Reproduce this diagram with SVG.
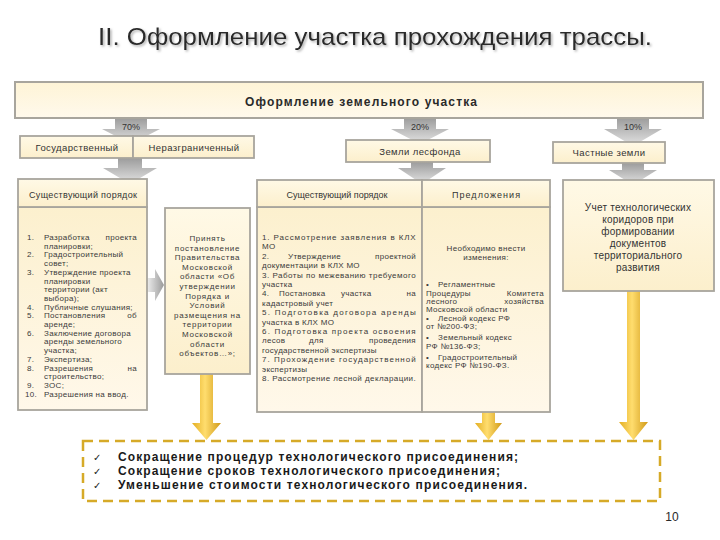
<svg xmlns="http://www.w3.org/2000/svg" width="720" height="540" viewBox="0 0 720 540">
<defs>
  <linearGradient id="gCream" x1="0" y1="0" x2="0" y2="1">
    <stop offset="0" stop-color="#FFF9E6"/>
    <stop offset="1" stop-color="#FCEFCC"/>
  </linearGradient>
  <linearGradient id="gBody" x1="0" y1="0" x2="0" y2="1">
    <stop offset="0" stop-color="#FCF0CE"/>
    <stop offset="1" stop-color="#FFF8EA"/>
  </linearGradient>
  <linearGradient id="gBanner" x1="0" y1="0" x2="0" y2="1">
    <stop offset="0" stop-color="#FEF4D6"/>
    <stop offset="1" stop-color="#FFF9EC"/>
  </linearGradient>
  <linearGradient id="gGrayV" x1="0" y1="0" x2="0" y2="1">
    <stop offset="0" stop-color="#9C9C9C"/>
    <stop offset="1" stop-color="#E4E4E4"/>
  </linearGradient>
  <linearGradient id="gGrayH" x1="0" y1="0" x2="1" y2="0">
    <stop offset="0" stop-color="#EDEDED"/>
    <stop offset="1" stop-color="#9A9A9A"/>
  </linearGradient>
  <linearGradient id="gYellow" x1="0" y1="0" x2="1" y2="0">
    <stop offset="0" stop-color="#E3AE22"/>
    <stop offset="0.45" stop-color="#FFDD6E"/>
    <stop offset="1" stop-color="#D19A18"/>
  </linearGradient>
  <filter id="shadow" x="-5%" y="-30%" width="110%" height="160%">
    <feDropShadow dx="1.5" dy="1.5" stdDeviation="0.8" flood-color="#9a9a9a" flood-opacity="0.8"/>
  </filter>
</defs>
<style>
  text { font-family: "Liberation Sans", Arial, sans-serif; fill: #2a2a2a; }
  .box { stroke: #A8A59D; stroke-width: 1.8; fill: url(#gCream); }
  .body { stroke: #A8A59D; stroke-width: 1.8; fill: url(#gBody); }
  .lbl { font-size: 9.5px; text-anchor: middle; letter-spacing: 0.4px; fill: #333; }
  .hdr { font-size: 9px; text-anchor: middle; fill: #333; }
  .pct { font-size: 9px; text-anchor: middle; fill: #333; }
  .sm { font-size: 8px; letter-spacing: 0.3px; }
  .sm text { fill: #3a3a3a; }
  .smc { font-size: 8px; letter-spacing: 0.7px; text-anchor: middle; }
  .smc text { fill: #3a3a3a; }
  .end { text-anchor: end; }
  .mid { text-anchor: middle; }
  .uch { font-size: 10px; text-anchor: middle; letter-spacing: 0.25px; fill: #333; }
  .res { font-size: 12px; font-weight: bold; fill: #1a1a1a; }
  .chk { font-family: "DejaVu Sans", sans-serif; font-size: 10px; fill: #1a1a1a; }
  .gray { fill: url(#gGrayV); }
  .grayh { fill: url(#gGrayH); }
  .yel { fill: url(#gYellow); }
</style>
<rect width="720" height="540" fill="#FFFFFF"/>

<g id="title">
  <text x="98" y="45" font-size="24" textLength="554" lengthAdjust="spacingAndGlyphs" filter="url(#shadow)" fill="#111">II. Оформление участка прохождения трассы.</text>
</g>

<g id="connectors">
  <path class="gray" d="M115,118 H147 V129 H160 L131,144 L102,129 H115 Z"/>
  <path class="gray" d="M404,118 H436 V129 H449 L420,144 L391,129 H404 Z"/>
  <path class="gray" d="M617,118 H649 V129 H662 L633,146 L604,129 H617 Z"/>
  <path class="gray" d="M118,158 H142 V168 H157 L130,184 L103,168 H118 Z"/>
  <path class="gray" d="M411,162 H433 V168 H446 L422,184 L398,168 H411 Z"/>
  <path class="gray" d="M622,163 H644 V170 H657 L633,185 L609,170 H622 Z"/>
  <path class="grayh" d="M147,278 H155 V269 L164,285 L155,301 V292 H147 Z"/>
  <path class="yel" d="M200,374 H213 V423 H221 L206.5,440 L192,423 H200 Z"/>
  <path class="yel" d="M482,412 H495 V423 H502 L488.5,440 L475,423 H482 Z"/>
  <path class="yel" d="M627,291 H640 V422 H648 L633.5,440 L619,422 H627 Z"/>
  <text class="pct" x="131" y="130">70%</text>
  <text class="pct" x="420" y="130">20%</text>
  <text class="pct" x="633" y="130">10%</text>
</g>

<g id="banner">
  <rect x="15" y="82" width="688" height="36" fill="url(#gBanner)" stroke="#A8A59D" stroke-width="2"/>
  <text x="361" y="106" font-size="12" font-weight="bold" text-anchor="middle" textLength="232" lengthAdjust="spacing" fill="#1a1a1a">Оформление земельного участка</text>
</g>

<g id="gos">
  <rect class="box" x="20" y="136" width="113" height="22"/>
  <text class="lbl" x="77" y="151">Государственный</text>
</g>
<g id="neraz">
  <rect class="box" x="133" y="136" width="121" height="22"/>
  <text class="lbl" x="194" y="151">Неразграниченный</text>
</g>
<g id="lesfond">
  <rect class="box" x="346" y="140" width="144" height="22"/>
  <text class="lbl" x="420" y="155">Земли лесфонда</text>
</g>
<g id="chast">
  <rect class="box" x="553" y="142" width="112" height="21"/>
  <text class="lbl" x="609" y="156">Частные земли</text>
</g>

<g id="left-order">
  <rect class="body" x="18" y="207" width="129" height="203"/>
  <rect class="box" x="18" y="179" width="129" height="28"/>
  <text class="hdr" x="83" y="198" textLength="108" lengthAdjust="spacing">Существующий порядок</text>
  <g class="sm">
    <text x="27" y="240">1.</text><text x="44" y="240">Разработка</text><text class="end" x="137" y="240">проекта</text>
    <text x="44" y="248.7">планировки;</text>
    <text x="27" y="257.4">2.</text><text x="44" y="257.4">Градостроительный</text>
    <text x="44" y="266.1">совет;</text>
    <text x="27" y="274.8">3.</text><text x="44" y="274.8">Утверждение проекта</text>
    <text x="44" y="283.5">планировки</text>
    <text x="44" y="292.2">территории (акт</text>
    <text x="44" y="300.9">выбора);</text>
    <text x="27" y="309.6">4.</text><text x="44" y="309.6">Публичные слушания;</text>
    <text x="27" y="318.3">5.</text><text x="44" y="318.3">Постановления</text><text class="end" x="137" y="318.3">об</text>
    <text x="44" y="327">аренде;</text>
    <text x="27" y="335.7">6.</text><text x="44" y="335.7">Заключение договора</text>
    <text x="44" y="344.4">аренды земельного</text>
    <text x="44" y="353.1">участка;</text>
    <text x="27" y="361.8">7.</text><text x="44" y="361.8">Экспертиза;</text>
    <text x="27" y="370.5">8.</text><text x="44" y="370.5">Разрешения</text><text class="end" x="137" y="370.5">на</text>
    <text x="44" y="379.2">строительство;</text>
    <text x="27" y="387.9">9.</text><text x="44" y="387.9">ЗОС;</text>
    <text x="25" y="396.6">10.</text><text x="44" y="396.6">Разрешения на ввод.</text>
  </g>
</g>

<g id="prinyat">
  <rect class="box" x="165" y="208" width="85" height="166"/>
  <g class="smc">
    <text x="207.5" y="241">Принять</text>
    <text x="207.5" y="250.6">постановление</text>
    <text x="207.5" y="260.2">Правительства</text>
    <text x="207.5" y="269.8">Московской</text>
    <text x="207.5" y="279.4">области «Об</text>
    <text x="207.5" y="289">утверждении</text>
    <text x="207.5" y="298.6">Порядка и</text>
    <text x="207.5" y="308.2">Условий</text>
    <text x="207.5" y="317.8">размещения на</text>
    <text x="207.5" y="327.4">территории</text>
    <text x="207.5" y="337">Московской</text>
    <text x="207.5" y="346.6">области</text>
    <text x="207.5" y="356.2">объектов…»;</text>
  </g>
</g>

<g id="mid-order">
  <rect class="body" x="257" y="207" width="165" height="205"/>
  <rect class="box" x="257" y="180" width="165" height="27"/>
  <text class="hdr" x="337" y="198" textLength="101" lengthAdjust="spacing">Существующий порядок</text>
  <g class="sm">
    <text x="262" y="240" textLength="154" lengthAdjust="spacing">1. Рассмотрение заявления в КЛХ</text>
    <text x="262" y="249.4">МО</text>
    <text x="262" y="258.8">2.</text><text x="288" y="258.8">Утверждение</text><text class="end" x="416" y="258.8">проектной</text>
    <text x="262" y="268.2">документации в КЛХ МО</text>
    <text x="262" y="277.6" textLength="154" lengthAdjust="spacing">3. Работы по межеванию требуемого</text>
    <text x="262" y="287">участка</text>
    <text x="262" y="296.4">4.</text><text x="279" y="296.4">Постановка</text><text x="341" y="296.4">участка</text><text class="end" x="416" y="296.4">на</text>
    <text x="262" y="305.8">кадастровый учет</text>
    <text x="262" y="315.2" textLength="154" lengthAdjust="spacing">5. Подготовка договора аренды</text>
    <text x="262" y="324.6">участка в КЛХ МО</text>
    <text x="262" y="334" textLength="154" lengthAdjust="spacing">6. Подготовка проекта освоения</text>
    <text x="262" y="343.4">лесов</text><text x="309" y="343.4">для</text><text class="end" x="416" y="343.4">проведения</text>
    <text x="262" y="352.8">государственной экспертизы</text>
    <text x="262" y="362.2" textLength="154" lengthAdjust="spacing">7. Прохождение государственной</text>
    <text x="262" y="371.6">экспертизы</text>
    <text x="262" y="381" textLength="154" lengthAdjust="spacing">8. Рассмотрение лесной декларации.</text>
  </g>
</g>

<g id="predl">
  <rect class="body" x="422" y="207" width="128" height="205"/>
  <rect class="box" x="422" y="180" width="128" height="27"/>
  <text class="hdr" x="486" y="198" textLength="68" lengthAdjust="spacing">Предложения</text>
  <g class="sm">
    <text class="mid" x="486" y="251">Необходимо внести</text>
    <text class="mid" x="486" y="260">изменения:</text>
    <text x="426" y="287">•</text><text x="438" y="287">Регламентные</text>
    <text x="426" y="296">Процедуры</text><text class="end" x="544" y="296">Комитета</text>
    <text x="426" y="304">лесного</text><text class="end" x="544" y="304">хозяйства</text>
    <text x="426" y="312">Московской области</text>
    <text x="426" y="321">•</text><text x="438" y="321">Лесной кодекс РФ</text>
    <text x="426" y="329">от №200-ФЗ;</text>
    <text x="426" y="340">•</text><text x="438" y="340">Земельный кодекс</text>
    <text x="426" y="349">РФ №136-ФЗ;</text>
    <text x="426" y="360">•</text><text x="438" y="360">Градостроительный</text>
    <text x="426" y="368">кодекс РФ №190-ФЗ.</text>
  </g>
</g>

<g id="uchet">
  <rect class="box" x="563" y="180" width="151" height="111"/>
  <text class="uch" x="638" y="211">Учет технологических</text>
  <text class="uch" x="638" y="223">коридоров при</text>
  <text class="uch" x="638" y="235">формировании</text>
  <text class="uch" x="638" y="247">документов</text>
  <text class="uch" x="638" y="259">территориального</text>
  <text class="uch" x="638" y="271">развития</text>
</g>

<g id="result">
  <rect x="83" y="441" width="577" height="60" fill="#FFFFFF" stroke="#D6AA28" stroke-width="2.5" stroke-dasharray="10,6"/>
  <text class="chk" x="93" y="461">✓</text>
  <text class="chk" x="93" y="475">✓</text>
  <text class="chk" x="93" y="489">✓</text>
  <text class="res" x="118" y="461" textLength="400" lengthAdjust="spacing">Сокращение процедур технологического присоединения;</text>
  <text class="res" x="118" y="475" textLength="382" lengthAdjust="spacing">Сокращение сроков технологического присоединения;</text>
  <text class="res" x="118" y="489" textLength="409" lengthAdjust="spacing">Уменьшение стоимости технологического присоединения.</text>
</g>

<g id="page">
  <text x="672" y="521" font-size="12" text-anchor="middle" fill="#111">10</text>
</g>
</svg>
